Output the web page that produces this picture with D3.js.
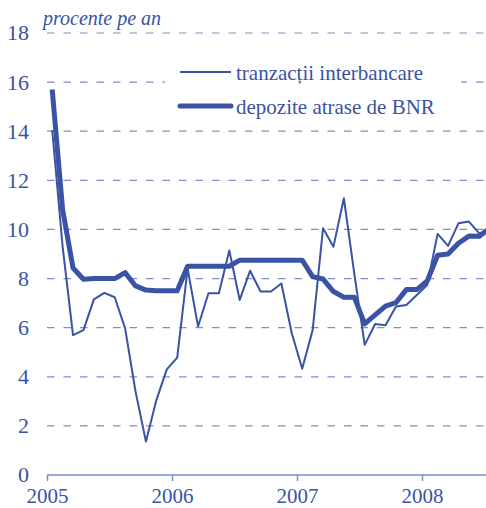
<!DOCTYPE html>
<html>
<head>
<meta charset="utf-8">
<script src="https://cdnjs.cloudflare.com/ajax/libs/d3/7.8.5/d3.min.js"></script>
<style>
  body { margin: 0; background: #fff; }
  svg { display: block; }
</style>
</head>
<body>
<svg class="chart"></svg>
<script>
// monthly data, Jan 2005 - Jul 2008
var startYear = 2005;
var interbank = [14.05, 9.3, 5.7, 5.9, 7.15, 7.42, 7.24, 5.97, 3.4, 1.36, 3.05, 4.3,
                 4.78, 8.4, 6.05, 7.4, 7.4, 9.14, 7.13, 8.32, 7.47, 7.47, 7.8, 5.77,
                 4.33, 5.9, 10.05, 9.3, 11.27, 8.2, 5.3, 6.15, 6.1, 6.86, 6.92, 7.33,
                 7.74, 9.82, 9.33, 10.25, 10.32, 9.84, 10.0];
var deposits = [15.7, 10.8, 8.43, 7.97, 8.0, 8.0, 8.0, 8.24, 7.7, 7.53, 7.5, 7.5,
                7.5, 8.5, 8.5, 8.5, 8.5, 8.5, 8.75, 8.75, 8.75, 8.75, 8.75, 8.75,
                8.75, 8.08, 7.98, 7.47, 7.24, 7.24, 6.15, 6.52, 6.88, 7.02, 7.55, 7.55,
                7.9, 8.95, 9.0, 9.44, 9.73, 9.72, 10.05];
var yTicks = [0, 2, 4, 6, 8, 10, 12, 14, 16, 18];
var xTicks = [2005, 2006, 2007, 2008];
var seriesNames = ["tranzacții interbancare", "depozite atrase de BNR"];
var unitLabel = "procente pe an";

var width = 486, height = 508;
var blue = "#3a53a4", gridBlue = "#7d8ec8";
var serif = "'Liberation Serif', 'Times New Roman', serif";

var svg = d3.select(".chart")
    .attr("width", width)
    .attr("height", height);

var x = d3.scaleLinear()
    .domain([2005, 2008.512])
    .range([47, 486]);

var y = d3.scaleLinear()
    .domain([0, 18])
    .range([475, 33]);

// dashed grid
svg.selectAll(".grid")
    .data(yTicks.filter(d => d > 0))
    .enter()
      .append("line")
      .attr("class", "grid")
      .attr("x1", x(2005))
      .attr("x2", width)
      .attr("y1", d => y(d))
      .attr("y2", d => y(d))
      .attr("stroke", gridBlue)
      .attr("stroke-width", 1.2)
      .attr("stroke-dasharray", "7.5,9");

// y labels
svg.selectAll(".ylab")
    .data(yTicks)
    .enter()
      .append("text")
      .attr("class", "ylab")
      .attr("x", 29)
      .attr("y", d => y(d))
      .attr("dy", "0.34em")
      .attr("text-anchor", "end")
      .attr("fill", blue)
      .style("font-family", serif)
      .style("font-size", "22px")
      .text(d => d);

// x axis
var xAxis = d3.axisBottom(x)
    .tickValues(xTicks)
    .tickSize(6)
    .tickFormat(d3.format("d"));

var gx = svg.append("g")
    .attr("transform", "translate(0," + y(0) + ")")
    .call(xAxis);
gx.select(".domain").attr("stroke", gridBlue).attr("stroke-width", 1.5).attr("d", "M47,0H486");
gx.selectAll(".tick line").attr("stroke", gridBlue).attr("stroke-width", 1.5);
gx.selectAll(".tick text")
    .attr("fill", blue)
    .attr("dy", null)
    .attr("y", 28)
    .style("font-size", "21px")
    .style("font-family", serif);

svg.append("text")
    .attr("x", 43)
    .attr("y", 25)
    .attr("fill", blue)
    .style("font-family", serif)
    .style("font-size", "20px")
    .style("font-style", "italic")
    .text(unitLabel);

var line = d3.line()
    .x((d, i) => x(startYear + (i + 0.5) / 12))
    .y(d => y(d));

svg.append("path")
    .datum(interbank)
    .attr("fill", "none")
    .attr("stroke", blue)
    .attr("stroke-width", 2)
    .attr("stroke-linejoin", "round")
    .attr("d", line);

svg.append("path")
    .datum(deposits)
    .attr("fill", "none")
    .attr("stroke", blue)
    .attr("stroke-width", 5)
    .attr("stroke-linejoin", "round")
    .attr("d", line);

// legend
var legend = svg.append("g");
legend.append("rect")
    .attr("x", 165)
    .attr("y", 55)
    .attr("width", 296)
    .attr("height", 68)
    .attr("fill", "#fff");

var legendRows = legend.selectAll(".row")
    .data(seriesNames)
    .enter()
      .append("g")
      .attr("class", "row")
      .attr("transform", (d, i) => "translate(0," + (72 + i * 34) + ")");

legendRows.append("line")
    .attr("x1", 180)
    .attr("x2", 231)
    .attr("stroke", blue)
    .attr("stroke-width", (d, i) => i ? 5 : 2)
    .attr("stroke-linecap", (d, i) => i ? "round" : "butt");

legendRows.append("text")
    .attr("x", 236)
    .attr("y", 8)
    .attr("fill", blue)
    .style("font-family", serif)
    .style("font-size", "21px")
    .text(d => d);
</script>
</body>
</html>
